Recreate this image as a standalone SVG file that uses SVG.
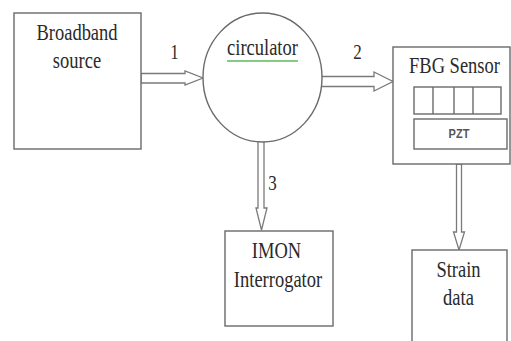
<svg xmlns="http://www.w3.org/2000/svg" width="511" height="341" viewBox="0 0 511 341">
<style>
.box{fill:#fff;stroke:#6a6a6a;stroke-width:1.4}
.arr{fill:#fff;stroke:#7a7a7a;stroke-width:1.3;stroke-linejoin:miter}
.t{font-family:"Liberation Serif","Times New Roman",serif;font-size:18.5px;fill:#2a2a2a;text-anchor:middle}
.n{font-family:"Liberation Serif","Times New Roman",serif;font-size:17px;fill:#2a2a2a;text-anchor:middle}
.s{font-family:"Liberation Sans",Arial,sans-serif;font-size:11px;font-weight:bold;fill:#555;text-anchor:middle}
</style>
<rect width="511" height="341" fill="#fff"/>
<g id="connectors">
<polygon class="arr" points="141,73.5 185,73.5 185,71 203,78 185,85 185,83 141,83"/>
<polygon class="arr" points="321,76.5 374,76.5 374,72 393,81.5 374,91 374,86.5 321,86.5"/>
<polygon class="arr" points="258,141 258,208 256,208 261.5,230 267,208 264,208 264,141"/>
<polygon class="arr" points="456.5,164 456.5,232 453.5,232 459,250 464.5,232 461.5,232 461.5,164"/>
<text class="n" transform="translate(174.5,59) scale(1,1.2)">1</text>
<text class="n" transform="translate(357.5,59) scale(1,1.2)">2</text>
<text class="n" transform="translate(272.5,190) scale(1,1.2)">3</text>
</g>
<g id="broadband">
<rect class="box" x="14" y="13" width="127" height="136"/>
<text class="t" transform="translate(77,40) scale(1,1.2)">Broadband</text>
<text class="t" transform="translate(77,68) scale(1,1.2)">source</text>
</g>
<g id="circulator">
<ellipse class="box" cx="262.5" cy="77.5" rx="59.5" ry="64.5"/>
<text class="t" transform="translate(262.5,55) scale(1,1.2)">circulator</text>
<line x1="227" y1="61" x2="298" y2="61" stroke="#5cb85c" stroke-width="1.6"/>
</g>
<g id="fbg">
<rect class="box" x="393" y="47" width="117" height="117"/>
<text class="t" transform="translate(454.5,73) scale(1,1.2)">FBG Sensor</text>
<rect class="box" x="414" y="87" width="87" height="27"/>
<line x1="433" y1="87" x2="433" y2="114" stroke="#6a6a6a" stroke-width="1.4"/>
<line x1="454" y1="87" x2="454" y2="114" stroke="#6a6a6a" stroke-width="1.4"/>
<line x1="473" y1="87" x2="473" y2="114" stroke="#6a6a6a" stroke-width="1.4"/>
<rect class="box" x="414" y="119" width="93" height="30"/>
<text class="s" transform="translate(459,138) scale(1,1.1)">PZT</text>
</g>
<g id="imon">
<rect class="box" x="225" y="231" width="108" height="95"/>
<text class="t" transform="translate(276.5,258) scale(1,1.2)">IMON</text>
<text class="t" transform="translate(278,287) scale(1,1.2)">Interrogator</text>
</g>
<g id="strain">
<rect class="box" x="412" y="250" width="95" height="100"/>
<text class="t" transform="translate(458.5,277) scale(1,1.2)">Strain</text>
<text class="t" transform="translate(458.5,305) scale(1,1.2)">data</text>
</g>
</svg>
